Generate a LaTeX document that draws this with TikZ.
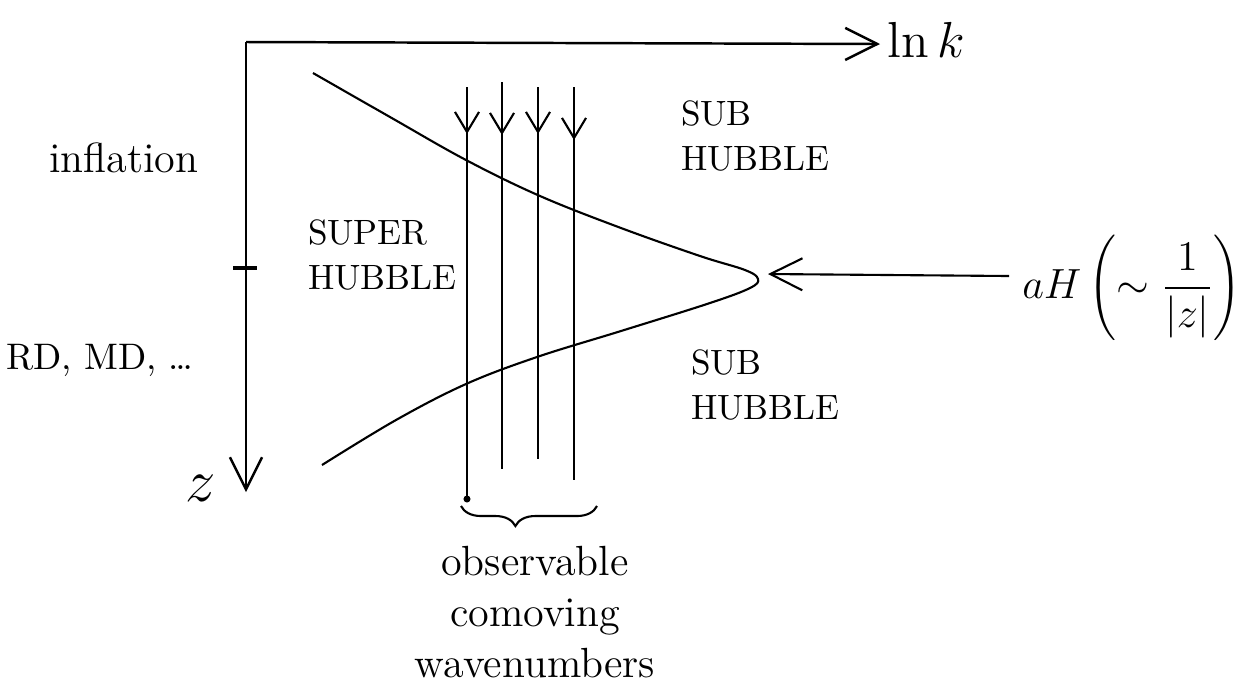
\documentclass[tikz,border=0pt]{standalone}
\usetikzlibrary{arrows.meta,decorations.pathreplacing}
\begin{document}
\begin{tikzpicture}[x=0.01cm,y=-0.01cm, line width=0.6pt,
  barb/.style={-{Straight Barb[length=3.2mm,width=3.2mm]}},
  smallbarb/.style={-{Straight Barb[length=2mm,width=2.4mm]}},
  lbl/.style={inner sep=0pt, font=\fontsize{12}{14}\selectfont},
  caps/.style={inner sep=0pt, align=left, anchor=west, font=\fontsize{10}{13}\selectfont},
]
\useasboundingbox (0,0) rectangle (1242,684);

% axes
\coordinate (O) at (246,42);
\coordinate (X) at (880,44);
\coordinate (Z) at (246,492);
\draw[barb, line width=0.7pt] (O) -- (X);
\draw[barb, line width=0.7pt] (O) -- (Z);
\coordinate (T1) at (233,268);
\coordinate (T2) at (257,268);
\draw[line width=1.1pt] (T1) -- (T2);

% horizon curve
\draw plot[smooth, tension=0.6] coordinates {(313,73) (390,117) (466,160) (540,196) (621,228) (700,256) (745,270) (758,279) (750,288) (710,303) (621,331) (537,357) (466,384) (396,420) (322,465)};

% comoving wavenumber lines
\foreach \i/\x/\t/\m/\b in {1/467/87/134/499, 2/502/82/135/469, 3/538/87/134/459, 4/574/87/140/480} {
  \coordinate (t\i) at (\x,\t);
  \coordinate (m\i) at (\x,\m);
  \coordinate (b\i) at (\x,\b);
  \draw (t\i) -- (b\i);
  \draw[smallbarb] (t\i) -- (m\i);
}
\fill (b1) circle[radius=1pt];

% brace
\coordinate (br1) at (461,506);
\coordinate (br2) at (597,506);
\draw[decorate, decoration={brace, mirror, amplitude=2mm, aspect=0.4}] (br1) -- (br2);

% labels
\node[lbl] (infl) at (124,158) {inflation};
\node[lbl, font=\fontsize{10.5}{13}\selectfont] (rd) at (100,360) {RD, MD, \dots};
\node[lbl, font=\fontsize{16}{18}\selectfont] (z) at (201,488) {$z$};
\node[lbl, font=\fontsize{14}{16}\selectfont] (lnk) at (926,40) {$\ln k$};
\node[caps] (super) at (307,255) {SUPER\\HUBBLE};
\node[caps] (sub1) at (680,136) {SUB\\HUBBLE};
\node[caps] (sub2) at (690,385) {SUB\\HUBBLE};
\node[lbl, align=center, font=\fontsize{12}{14.5}\selectfont] (obs) at (535,612) {observable\\comoving\\wavenumbers};
\node[lbl, font=\fontsize{13}{15}\selectfont] (aH) at (1132,288) {$aH\left(\sim\displaystyle\frac{1}{|z|}\right)$};

% aH arrow
\coordinate (aHs) at (1009,276);
\coordinate (tip) at (768,274);
\draw[barb] (aHs) -- (tip);
\end{tikzpicture}
\end{document}
